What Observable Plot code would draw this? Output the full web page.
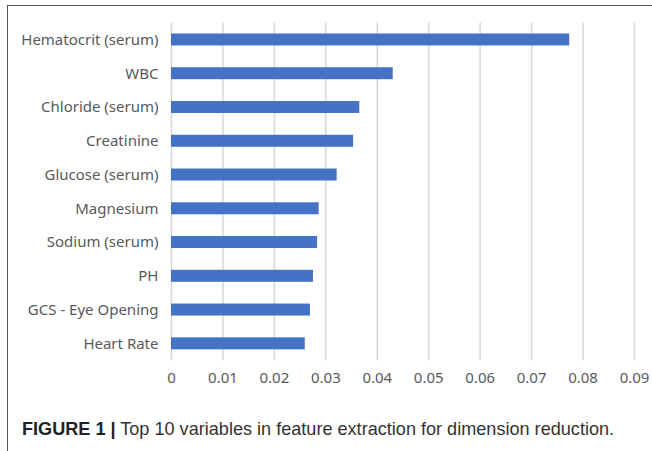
<!DOCTYPE html>
<html>
<head>
<meta charset="utf-8">
<script src="https://cdn.jsdelivr.net/npm/d3@7"></script>
<script src="https://cdn.jsdelivr.net/npm/@observablehq/plot@0.6"></script>
<style>
  html, body { margin: 0; padding: 0; background: #fff; }
  #page { position: relative; width: 652px; height: 451px; overflow: hidden; }
  #frame { position: absolute; left: 7px; top: 5px; width: 660px; height: 460px;
           border-top: 1.5px solid #555; border-left: 1.5px solid #555; }
  #chart { position: absolute; left: 0; top: 0; }
  #caption { position: absolute; left: 22px; top: 419px; font-family: "Liberation Sans", Arial, sans-serif;
             font-size: 18.1px; color: #333; white-space: nowrap; }
  #caption b { color: #222; }
</style>
</head>
<body>
<div id="page">
  <div id="frame"></div>
  <div id="chart"></div>
  <div id="caption"><b>FIGURE 1 |</b> Top 10 variables in feature extraction for dimension reduction.</div>
</div>
<script>
const variables = ["Hematocrit (serum)", "WBC", "Chloride (serum)", "Creatinine", "Glucose (serum)",
                   "Magnesium", "Sodium (serum)", "PH", "GCS - Eye Opening", "Heart Rate"];
const importance = [0.0774, 0.0431, 0.0366, 0.0354, 0.0322, 0.0287, 0.0284, 0.0276, 0.0270, 0.0260];
const xTicks = [0, 0.01, 0.02, 0.03, 0.04, 0.05, 0.06, 0.07, 0.08, 0.09];

const data = variables.map((v, i) => ({variable: v, value: importance[i]}));

const chart = Plot.plot({
  width: 652,
  height: 395,
  marginLeft: 171,
  marginRight: 18,
  marginTop: 22.6,
  marginBottom: 34.8,
  style: {fontFamily: "'Noto Sans', sans-serif", fontSize: "14px", color: "#595959", background: "transparent"},
  x: {domain: [0, 0.09], ticks: xTicks, label: null},
  y: {domain: variables, paddingInner: 0.645, paddingOuter: 0.3225, round: false, label: null},
  marks: [
    Plot.gridX(xTicks, {stroke: "#d9d9d9", strokeOpacity: 1, strokeWidth: 1.6}),
    Plot.barX(data, {x: "value", y: "variable", fill: "#4472C4"}),
    Plot.axisX(xTicks, {tickSize: 0, tickPadding: 12, fontSize: 15, fill: "#595959",
                        tickFormat: d => d === 0 ? "0" : d.toFixed(2), label: null}),
    Plot.axisY({tickSize: 0, tickPadding: 13, fontSize: 15, fill: "#595959", label: null})
  ]
});
document.getElementById("chart").appendChild(chart);
</script>
</body>
</html>
